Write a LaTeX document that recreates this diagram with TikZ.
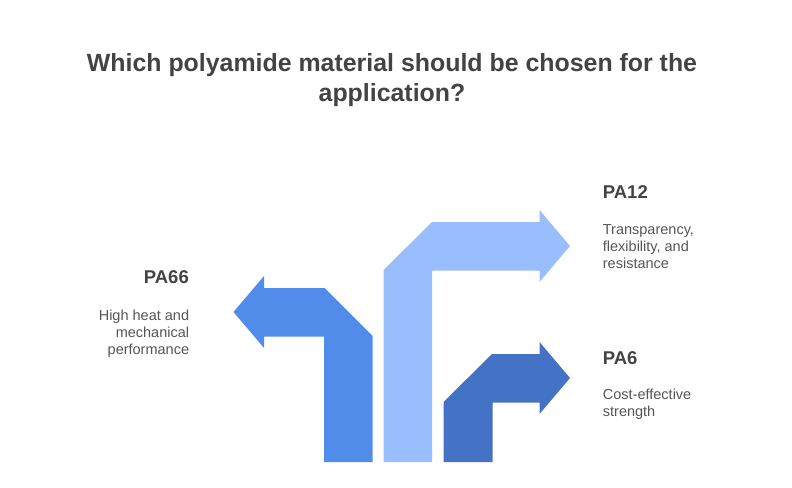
\documentclass[tikz,border=0pt]{standalone}
\usepackage{fontspec}
\setmainfont{Liberation Sans}
\definecolor{titlegray}{HTML}{434343}
\definecolor{descgray}{HTML}{555555}
\definecolor{armA}{HTML}{518CEB}
\definecolor{armB}{HTML}{99BEFD}
\definecolor{armC}{HTML}{4472C4}
\tikzset{
  titletext/.style={inner sep=0pt, text=titlegray, align=center, font=\fontsize{24.9}{30}\selectfont\bfseries},
  nametext/.style={inner sep=0pt, text=titlegray, font=\fontsize{18.5}{22}\selectfont\bfseries},
  desctext/.style={inner sep=0pt, text=descgray, font=\fontsize{14.5}{16.7}\selectfont}
}
\begin{document}
\begin{tikzpicture}[x=1pt,y=-1pt]
\useasboundingbox (0,0) rectangle (792,487);
% title (base anchor = baseline of last line)
\node[titletext, anchor=base] (title) at (392,101.7) {Which polyamide material should be chosen for the\\application?};
% arrows
\fill[armA] (324,462) -- (324,336.5) -- (264,336.5) -- (264,348) -- (233.5,312) -- (264,276) -- (264,288) -- (324.5,288) -- (372.5,336) -- (372.5,462) -- cycle;
\fill[armB] (383.5,462) -- (383.5,270) -- (432,222) -- (539.5,222) -- (539.5,210) -- (570,246) -- (539.5,282) -- (539.5,270.5) -- (432,270.5) -- (432,462) -- cycle;
\fill[armC] (443.5,462) -- (443.5,402) -- (492,354) -- (539.5,354) -- (539.5,342) -- (570,378) -- (539.5,414) -- (539.5,402.5) -- (492.5,402.5) -- (492.5,462) -- cycle;
% labels
\node[nametext, anchor=base east] (pa66) at (189,283.3) {PA66};
\node[desctext, anchor=base east, align=right] (pa66d) at (189.3,354) {High heat and\\mechanical\\performance};
\node[nametext, anchor=base west] (pa12) at (602.7,198) {PA12};
\node[desctext, anchor=base west, align=left] (pa12d) at (602.7,268.3) {Transparency,\\flexibility, and\\resistance};
\node[nametext, anchor=base west] (pa6) at (602.7,364.3) {PA6};
\node[desctext, anchor=base west, align=left] (pa6d) at (602.7,416) {Cost-effective\\strength};
\end{tikzpicture}
\end{document}
